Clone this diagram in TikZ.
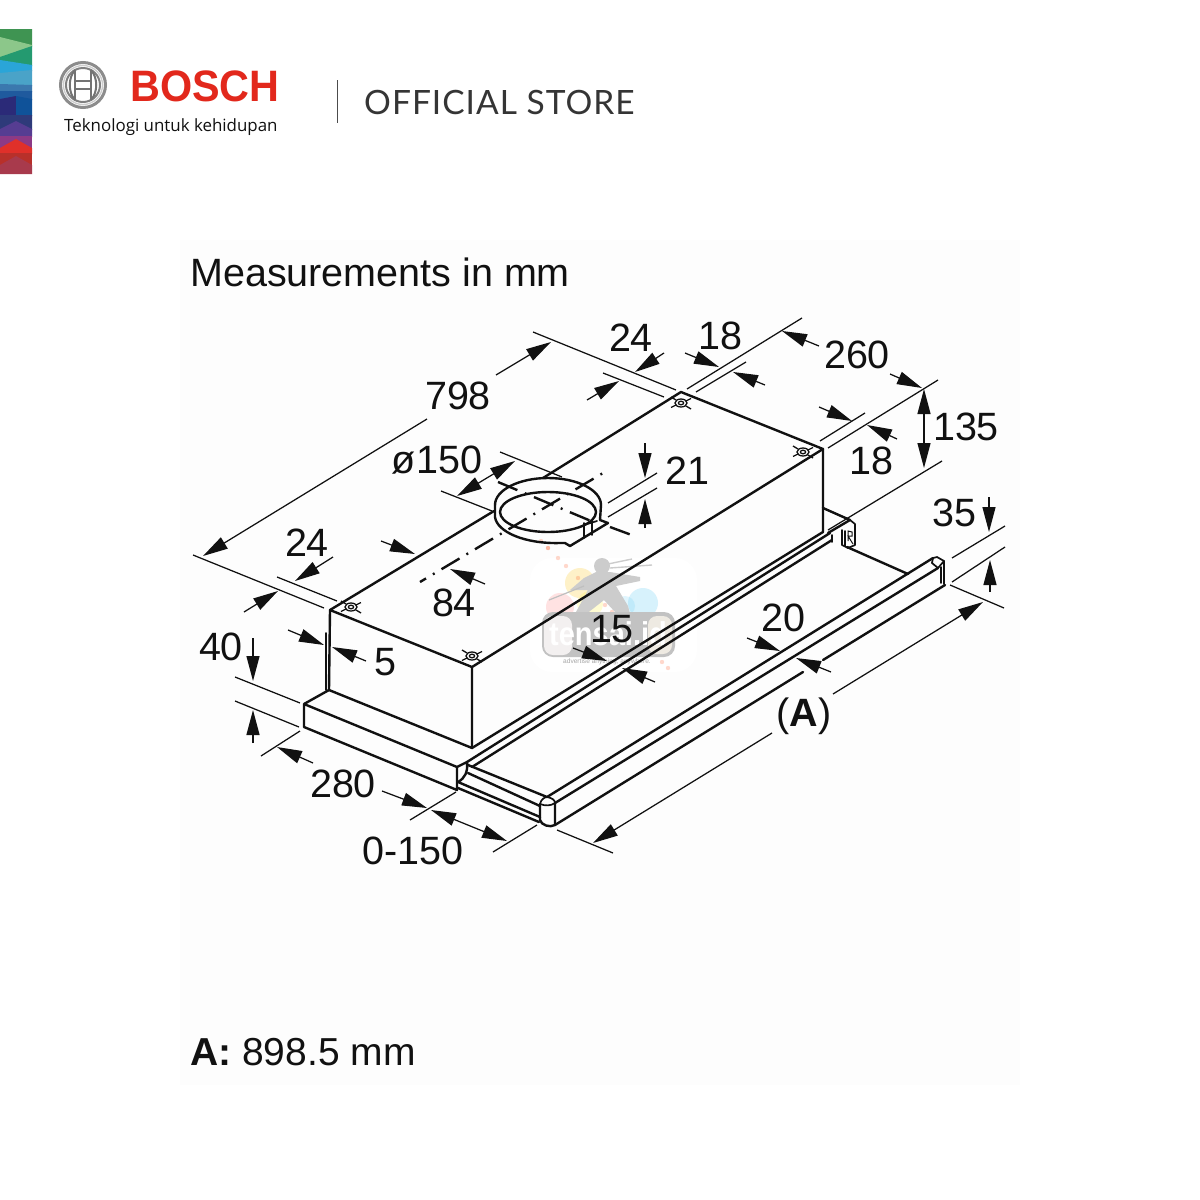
\documentclass[tikz,border=0pt]{standalone}
\usepackage{fontspec}
\usepackage{graphicx}
\setmainfont{Liberation Sans}
\newfontfamily\storefont[LetterSpace=3]{Lato}
\newfontfamily\tagfont{Open Sans}
\usetikzlibrary{arrows.meta,shapes.geometric}
\definecolor{ink}{HTML}{111111}
\definecolor{boschred}{HTML}{E2281C}
\definecolor{c1}{RGB}{63,148,82}
\definecolor{c2}{RGB}{140,199,138}
\definecolor{c3}{RGB}{36,154,112}
\definecolor{c4}{RGB}{42,165,216}
\definecolor{c5}{RGB}{74,163,200}
\definecolor{c6}{RGB}{59,120,174}
\definecolor{c7}{RGB}{31,90,158}
\definecolor{c8}{RGB}{43,42,120}
\definecolor{c9}{RGB}{15,82,153}
\definecolor{c10}{RGB}{46,58,122}
\definecolor{c11}{RGB}{86,61,146}
\definecolor{c12}{RGB}{140,58,134}
\definecolor{c13}{RGB}{224,48,42}
\definecolor{c14}{RGB}{184,48,42}
\definecolor{c15}{RGB}{168,58,76}
\tikzset{
  body/.style={line width=2.4pt,ink,line cap=round,line join=round},
  fine/.style={line width=1.7pt,ink,line cap=round,line join=round},
  thin line/.style={line width=1.25pt,ink},
  dim/.style={line width=1.25pt,ink,-{Triangle[length=25pt,width=13pt]}},
  dimdbl/.style={line width=1.25pt,ink,{Triangle[length=25pt,width=13pt]}-{Triangle[length=25pt,width=13pt]}},
  lab/.style={inner sep=0pt,text=ink,font=\fontsize{39.5}{40}\selectfont},
  axis/.style={line width=2.4pt,ink,dash pattern=on 21pt off 8pt on 2pt off 8pt},
  screw/.style={line width=1.3pt,ink},
  band/.style={draw=none}
}
\newcommand{\screwmark}[3]{%
  \coordinate (#1) at (#2,#3);
  \draw[screw] (#1) ellipse (6pt and 4pt);
  \draw[screw] (#1) ellipse (2.6pt and 1.8pt);
  \draw[screw] ([shift={(-10pt,-4.5pt)}]#1) -- ([shift={(-5pt,-2pt)}]#1);
  \draw[screw] ([shift={(5pt,2pt)}]#1) -- ([shift={(10pt,4.5pt)}]#1);
  \draw[screw] ([shift={(-10pt,6pt)}]#1) -- ([shift={(-5pt,3pt)}]#1);
  \draw[screw] ([shift={(5pt,-3pt)}]#1) -- ([shift={(10pt,-6pt)}]#1);
}
\begin{document}
\begin{tikzpicture}[x=1pt,y=-1pt]
\useasboundingbox (0,0) rectangle (1200,1200);
\fill[white] (0,0) rectangle (1200,1200);
\fill[black!0.7] (180,240) rectangle (1020,1085);

% colour strip
\fill[band,fill=c1] (0,29)--(32,29)--(32,46)--(0,38)--cycle;
\fill[band,fill=c2] (0,37)--(32,45)--(32,47)--(0,58)--cycle;
\fill[band,fill=c3] (0,57)--(32,46)--(32,66)--(0,61)--cycle;
\fill[band,fill=c4] (0,60)--(32,65)--(32,71)--(0,74)--cycle;
\fill[band,fill=c5] (0,73)--(32,70)--(32,86)--(0,85)--cycle;
\fill[band,fill=c6] (0,84)--(32,85)--(32,92)--(0,92)--cycle;
\fill[band,fill=c7] (0,91)--(32,91)--(32,100)--(16,97)--(0,100)--cycle;
\fill[band,fill=c8] (0,99)--(16,96)--(16,116)--(0,116)--cycle;
\fill[band,fill=c9] (16,96)--(32,99)--(32,116)--(16,116)--cycle;
\fill[band,fill=c10] (0,115)--(32,115)--(32,130)--(16,122)--(0,130)--cycle;
\fill[band,fill=c11] (0,129)--(16,121)--(32,129)--(32,137)--(0,137)--cycle;
\fill[band,fill=c12] (0,136)--(32,136)--(32,150)--(0,150)--cycle;
\fill[band,fill=c13] (0,148)--(16,139)--(32,148)--(32,154)--(0,154)--cycle;
\fill[band,fill=c14] (0,153)--(32,153)--(32,166)--(0,166)--cycle;
\fill[band,fill=c15] (0,165)--(16,156)--(32,165)--(32,174)--(0,174)--cycle;

% armature logo
\coordinate (armature) at (83,85);
\draw[line width=3pt,black!45] (armature) circle (22.5pt);
\draw[line width=1.3pt,black!20] (armature) circle (19.5pt);
\draw[line width=2pt,black!50] (armature) circle (17pt);
\draw[line width=2pt,black!55] (75,70) .. controls (68,78) and (68,92) .. (75,100);
\draw[line width=2pt,black!55] (91,70) .. controls (98,78) and (98,92) .. (91,100);
\draw[line width=1.6pt,black!55] (75,70)--(75,100) (91,70)--(91,100);
\draw[line width=1.4pt,black!55] (75,81)--(91,81) (75,89)--(91,89);

% brand text
\node[inner sep=0pt,anchor=base west,text=boschred,font=\fontsize{44}{44}\selectfont\bfseries] (brand) at (130,101) {\scalebox{.94}[1]{BOSCH}};
\node[inner sep=0pt,anchor=base west,text=ink,font=\tagfont\fontsize{16.9}{17}\selectfont] (tagline) at (64,131) {Teknologi untuk kehidupan};
\coordinate (ruleTop) at (337,80);
\coordinate (ruleBot) at (337,123);
\draw[line width=1pt,black!70] (ruleTop) -- (ruleBot);
\node[inner sep=0pt,anchor=base west,text=ink!85,font=\storefont\fontsize{33.5}{34}\selectfont] (store) at (364,114) {OFFICIAL STORE};

% watermark
\fill[white,rounded corners=22pt] (530,558) rectangle (697,672);
\fill[yellow!55!orange,opacity=.22] (580,583) circle (15pt);
\fill[red!70,opacity=.16] (560,607) circle (14pt);
\fill[cyan!70,opacity=.22] (643,603) circle (15pt);
\fill[cyan!60,opacity=.2] (625,606) circle (10pt);
\fill[yellow!70,opacity=.25] (590,604) circle (13pt);
\foreach \bx/\by in {541,586,548,600,558,592,566,578,650,590,662,596,668,605,548,612}{\fill[red!50!orange,opacity=.2] (\bx,\by) circle (2.2pt);}
\fill[black!20] (602,566) circle (8pt);
\fill[black!20] (596,572)--(610,572)--(640,577)--(640,581)--(616,586)--(628,606)--(630,614)--(615,612)--(604,600)--(585,615)--(576,612)--(588,590)--(570,590)--(584,578)--cycle;
\draw[line width=1.2pt,black!25] (549,600)--(584,586);
\draw[line width=1.4pt,black!20] (608,564)--(632,559) (610,568)--(652,565);
\fill[black!24,rounded corners=11pt] (542,612) rectangle (675,657);
\fill[red!22!black!6,rounded corners=9pt] (544,616) rectangle (572,655);
\fill[yellow!35!orange!35!black!12,rounded corners=9pt] (648,616) rectangle (672,654);
\node[inner sep=0pt,text=white,font=\fontsize{33}{33}\selectfont\bfseries] (wmark) at (608,634) {\scalebox{.88}[1]{tensai.id}};
\node[inner sep=0pt,text=black!35,font=\fontsize{6.6}{7}\selectfont] (wtag) at (607,662) {advertise anything, anywhere.};

% main box
\coordinate (L) at (330,610); \coordinate (T) at (681,392); \coordinate (R) at (823,449);
\coordinate (F) at (472,667); \coordinate (Fb) at (472,748); \coordinate (Lb) at (329,690); \coordinate (Rb) at (823,532);
\coordinate (Dl) at (494,511); \coordinate (Dr) at (543,478);
\draw[body] (L) -- (Dl);
\draw[body] (Dr) -- (T) -- (R) -- (F) -- (L);
\draw[body] (L) -- (Lb) -- (Fb) -- (F);
\draw[body] (Fb) -- (Rb) -- (R);
\coordinate (Li) at (326,633);
\coordinate (Lib) at (326,690);
\draw[fine] (Li) -- (Lib);

% front bezel
\coordinate (Ba) at (304,704); \coordinate (Bb) at (457,767); \coordinate (Bc) at (304,727); \coordinate (Bd) at (457,790); \coordinate (Be) at (467,762);
\draw[body] (Lb) -- (Ba) -- (Bb) -- (Bd) -- (Bc) -- (Ba);
\draw[body] (Bb) -- (Be) .. controls (468,772) and (465,778) .. (458,782);

% rails
\coordinate (Ra) at (830,533); \coordinate (Rc) at (472,767); \coordinate (Rd) at (832,540);
\draw[body] (Be) -- (Ra);
\draw[body] (Rc) -- (Rd);

% rear bracket
\draw[body] (823,508) -- (850,520) -- (828,533);
\draw[fine] (850,520) -- (855,524) -- (855,545) -- (848,548) -- (842,545) -- (842,530);
\draw[fine] (845,531) -- (845,546) (832,535) -- (832,542);
\draw[line width=1pt,ink] (848,541)--(848,531)--(852,532)--(852,536)--(848,536)--(853,544);
\draw[body] (847,547) -- (908,574);

% drawer
\coordinate (Ha) at (547,797); \coordinate (Hb) at (555,803); \coordinate (Hc) at (555,825);
\coordinate (Hd) at (933,558); \coordinate (He) at (938,568); \coordinate (Hf) at (945,585);
\draw[body] (468,765) -- (Ha);
\draw[body] (468,773) -- (540,806);
\draw[body] (458,782) -- (540,817);
\draw[body] (458,788) -- (539,822);
\draw[body] (Ha) -- (Hd);
\draw[body] (Hb) -- (He);
\draw[body] (Hc) -- (803,672);
\draw[body] (823,660) -- (Hf);
% handle cap, near end
\draw[fine] (540,804) .. controls (541,799) and (545,797) .. (Ha) .. controls (552,798) and (555,800) .. (Hb);
\draw[fine] (540,804) .. controls (545,806) and (551,806) .. (Hb);
\draw[body] (540,804) -- (540,820) .. controls (541,825) and (550,828) .. (Hc) -- (Hb);
% handle cap, far end
\draw[fine] (Hd) -- (937,557) -- (944,561) -- (944,584);
\draw[fine] (932,563) -- (Hd);
\draw[fine] (932,563) -- (938,568) -- (944,561);
\draw[fine] (941,567) -- (941,583);

% screws
\screwmark{s1}{681}{403}
\screwmark{s2}{803}{452}
\screwmark{s3}{351}{607}
\screwmark{s4}{472}{656}

% duct
\coordinate (Dc) at (548,505);
\draw[body] (495,505) arc[start angle=180,end angle=0,x radius=53pt,y radius=27pt];
\draw[body] (548,512) ellipse (48pt and 20pt);
\draw[body] (495,505) -- (495,517) .. controls (497,532) and (525,544) .. (560,543) -- (565,543) -- (570,546) -- (608,523) -- (600,520) -- (601,505);
\draw[fine] (584,523) -- (584,538);
\draw[fine] (592,521) -- (592,535);
\draw[fine] (584,525) -- (597,521);
\coordinate (Xa) at (420,582); \coordinate (Xb) at (603,473);
\coordinate (Ya) at (498,482); \coordinate (Yb) at (591,521); \coordinate (Yc) at (610,527); \coordinate (Yd) at (637,537);
\draw[axis,dash phase=14pt] (Xa) -- (Xb);
\draw[axis] (Ya) -- (Yb);
\draw[axis,dash pattern=on 21pt off 8pt on 2pt off 20pt] (Yc) -- (Yd);

% extension lines
\draw[thin line] (193,555) -- (324,608);
\draw[thin line] (277,577) -- (337,601);
\draw[thin line] (533,332) -- (676,390);
\draw[thin line] (603,373) -- (664,397);
\draw[thin line] (687,389) -- (802,318);
\draw[thin line] (696,392) -- (746,362);
\draw[thin line] (820,441) -- (865,413);
\draw[thin line] (828,448) -- (938,380);
\draw[thin line] (828,530) -- (942,461);
\draw[thin line] (952,558) -- (1005,526);
\draw[thin line] (952,582) -- (1005,547);
\draw[thin line] (950,585) -- (1004,608);
\draw[thin line] (557,830) -- (613,853);
\draw[thin line] (493,852) -- (537,825);
\draw[thin line] (410,820) -- (456,792);
\draw[thin line] (261,756) -- (300,731);
\draw[thin line] (235,677) -- (300,703);
\draw[thin line] (235,701) -- (299,727);
\draw[thin line] (500,452) -- (562,477);
\draw[thin line] (441,491) -- (492,511);
\draw[thin line] (608,503) -- (657,473);
\draw[thin line] (608,517) -- (657,488);

% dimension arrows
\draw[dim] (427,419) -- (203,556);
\draw[dim] (496,375) -- (551,342);
\draw[dim] (244,612) -- (278,591);
\draw[dim] (333,557) -- (295,581);
\draw[dim] (587,400) -- (619,381);
\draw[dim] (664,353) -- (635,372);
\draw[dim] (685,353) -- (719,367);
\draw[dim] (765,385) -- (733,372);
\draw[dim] (819,346) -- (782,331);
\draw[dim] (890,374) -- (922,388);
\draw[dim] (819,407) -- (852,421);
\draw[dim] (897,439) -- (867,425);
\draw[dimdbl] (924,389) -- (924,468);
\draw[dim] (989,497) -- (989,532);
\draw[dim] (990,592) -- (990,560);
\draw[dim] (833,694) -- (983,602);
\draw[dim] (772,733) -- (593,843);
\draw[dim] (747,638) -- (780,651);
\draw[dim] (831,672) -- (796,658);
\draw[dim] (573,648) -- (607,661);
\draw[dim] (655,682) -- (622,668);
\draw[dim] (485,584) -- (450,569);
\draw[dim] (381,541) -- (415,554);
\draw[dimdbl] (515,461) -- (457,496);
\draw[dim] (645,443) -- (645,478);
\draw[dim] (645,528) -- (645,499);
\draw[dim] (253,638) -- (253,681);
\draw[dim] (253,743) -- (253,710);
\draw[dim] (313,763) -- (277,747);
\draw[dim] (382,791) -- (427,808);
\draw[dimdbl] (431,810) -- (507,841);
\draw[dim] (288,630) -- (324,645);
\draw[dim] (366,661) -- (332,647);

% labels
\node[lab] (t798) at (458,396) {798};
\node[lab] (t24a) at (631,338) {24};
\node[lab] (t18a) at (720,336) {18};
\node[lab] (t260) at (857,355) {260};
\node[lab] (t135) at (966,427) {135};
\node[lab] (t18b) at (871,461) {18};
\node[lab] (t35) at (954,513) {35};
\node[lab] (t21) at (687,471) {21};
\node[lab] (t150) at (437,460) {ø150};
\node[lab] (t24b) at (307,543) {24};
\node[lab] (t84) at (454,603) {84};
\node[lab] (t40) at (221,647) {40};
\node[lab] (t5) at (385,662) {5};
\node[lab] (t15) at (612,629) {15};
\node[lab] (t20) at (783,618) {20};
\node[lab] (tA) at (804,716) {(\textbf{A})};
\node[lab] (t280) at (343,784) {280};
\node[lab] (t0150) at (413,851) {0-150};
\node[lab,anchor=base west] (title) at (190,286) {Measurements in mm};
\node[lab,anchor=base west,font=\fontsize{39}{40}\selectfont] (note) at (190,1065) {\textbf{A:} 898.5 mm};
\end{tikzpicture}
\end{document}
